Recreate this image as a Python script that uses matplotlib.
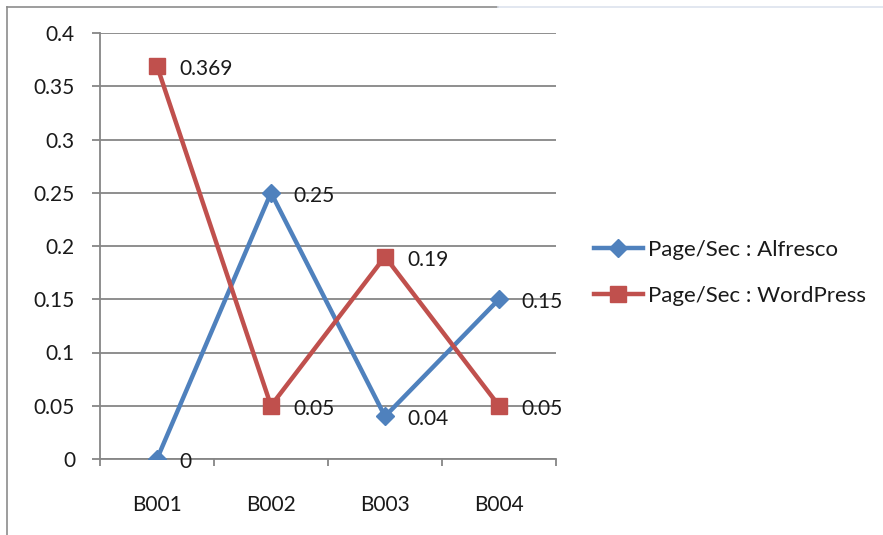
import matplotlib.pyplot as plt
from matplotlib.lines import Line2D

categories = ['B001', 'B002', 'B003', 'B004']
alfresco = [0, 0.25, 0.04, 0.15]
wordpress = [0.369, 0.05, 0.19, 0.05]
alfresco_labels = ['0', '0.25', '0.04', '0.15']
wordpress_labels = ['0.369', '0.05', '0.19', '0.05']
y_ticks = [0, 0.05, 0.1, 0.15, 0.2, 0.25, 0.3, 0.35, 0.4]
y_tick_labels = ['0', '0.05', '0.1', '0.15', '0.2', '0.25', '0.3', '0.35', '0.4']

BLUE = '#4F81BD'
RED = '#C0504D'
GRID = '#868686'
TXT = '#1a1a1a'
FS = 15

plt.rcParams['font.family'] = ['Lato', 'DejaVu Sans']

fig = plt.figure(figsize=(8.83, 5.35), dpi=100)
ax = fig.add_axes([100 / 883, 76 / 535, 456 / 883, 426 / 535])

x = list(range(len(categories)))
ax.plot(x, alfresco, color=BLUE, lw=3.2, marker='D', ms=9, mfc=BLUE, mec=BLUE,
        label='Page/Sec : Alfresco', zorder=4)
ax.plot(x, wordpress, color=RED, lw=3.2, marker='s', ms=11, mfc=RED, mec=RED,
        label='Page/Sec : WordPress', zorder=5)

for xi, v, s in zip(x, alfresco, alfresco_labels):
    ax.annotate(s, (xi, v), xytext=(22, -3), textcoords='offset pixels',
                ha='left', va='center', fontsize=FS, color=TXT)
for xi, v, s in zip(x, wordpress, wordpress_labels):
    ax.annotate(s, (xi, v), xytext=(22, -3), textcoords='offset pixels',
                ha='left', va='center', fontsize=FS, color=TXT)

ax.set_xlim(-0.5, len(categories) - 0.5)
ax.set_ylim(0, 0.4)
ax.set_yticks(y_ticks)
ax.set_yticklabels(y_tick_labels)
ax.set_xticks(x)
ax.set_xticklabels(categories)
ax.set_xticks([i - 0.5 for i in range(len(categories) + 1)], minor=True)

ax.yaxis.grid(True, color=GRID, lw=1.3)
ax.set_axisbelow(True)
for side in ['top', 'right']:
    ax.spines[side].set_visible(False)
for side in ['left', 'bottom']:
    ax.spines[side].set_color(GRID)
    ax.spines[side].set_linewidth(1.3)

ax.tick_params(axis='y', length=6, width=1.3, color=GRID, pad=12,
               labelsize=FS, labelcolor=TXT)
ax.tick_params(axis='x', which='major', length=0, pad=26,
               labelsize=FS, labelcolor=TXT)
ax.tick_params(axis='x', which='minor', length=5, width=1.3, color=GRID)

ax.legend(loc='center left', frameon=False, fontsize=16,
          handlelength=2.2, labelspacing=1.15, handletextpad=0.25,
          borderpad=0, borderaxespad=0, labelcolor=TXT)
leg = ax.get_legend()
leg.set_bbox_to_anchor((594 / 883, 262 / 535), transform=fig.transFigure)

# chart frame edges
fig.add_artist(Line2D([7 / 883, 7 / 883], [0, 1 - 7 / 535],
                      transform=fig.transFigure, color='#8c8c8c', lw=1.2))
fig.add_artist(Line2D([7 / 883, 498 / 883], [1 - 7 / 535, 1 - 7 / 535],
                      transform=fig.transFigure, color='#8c8c8c', lw=1.2))
fig.add_artist(Line2D([498 / 883, 1], [1 - 7 / 535, 1 - 7 / 535],
                      transform=fig.transFigure, color='#dde3ee', lw=1.2))

fig.savefig('out.png', dpi=100)
